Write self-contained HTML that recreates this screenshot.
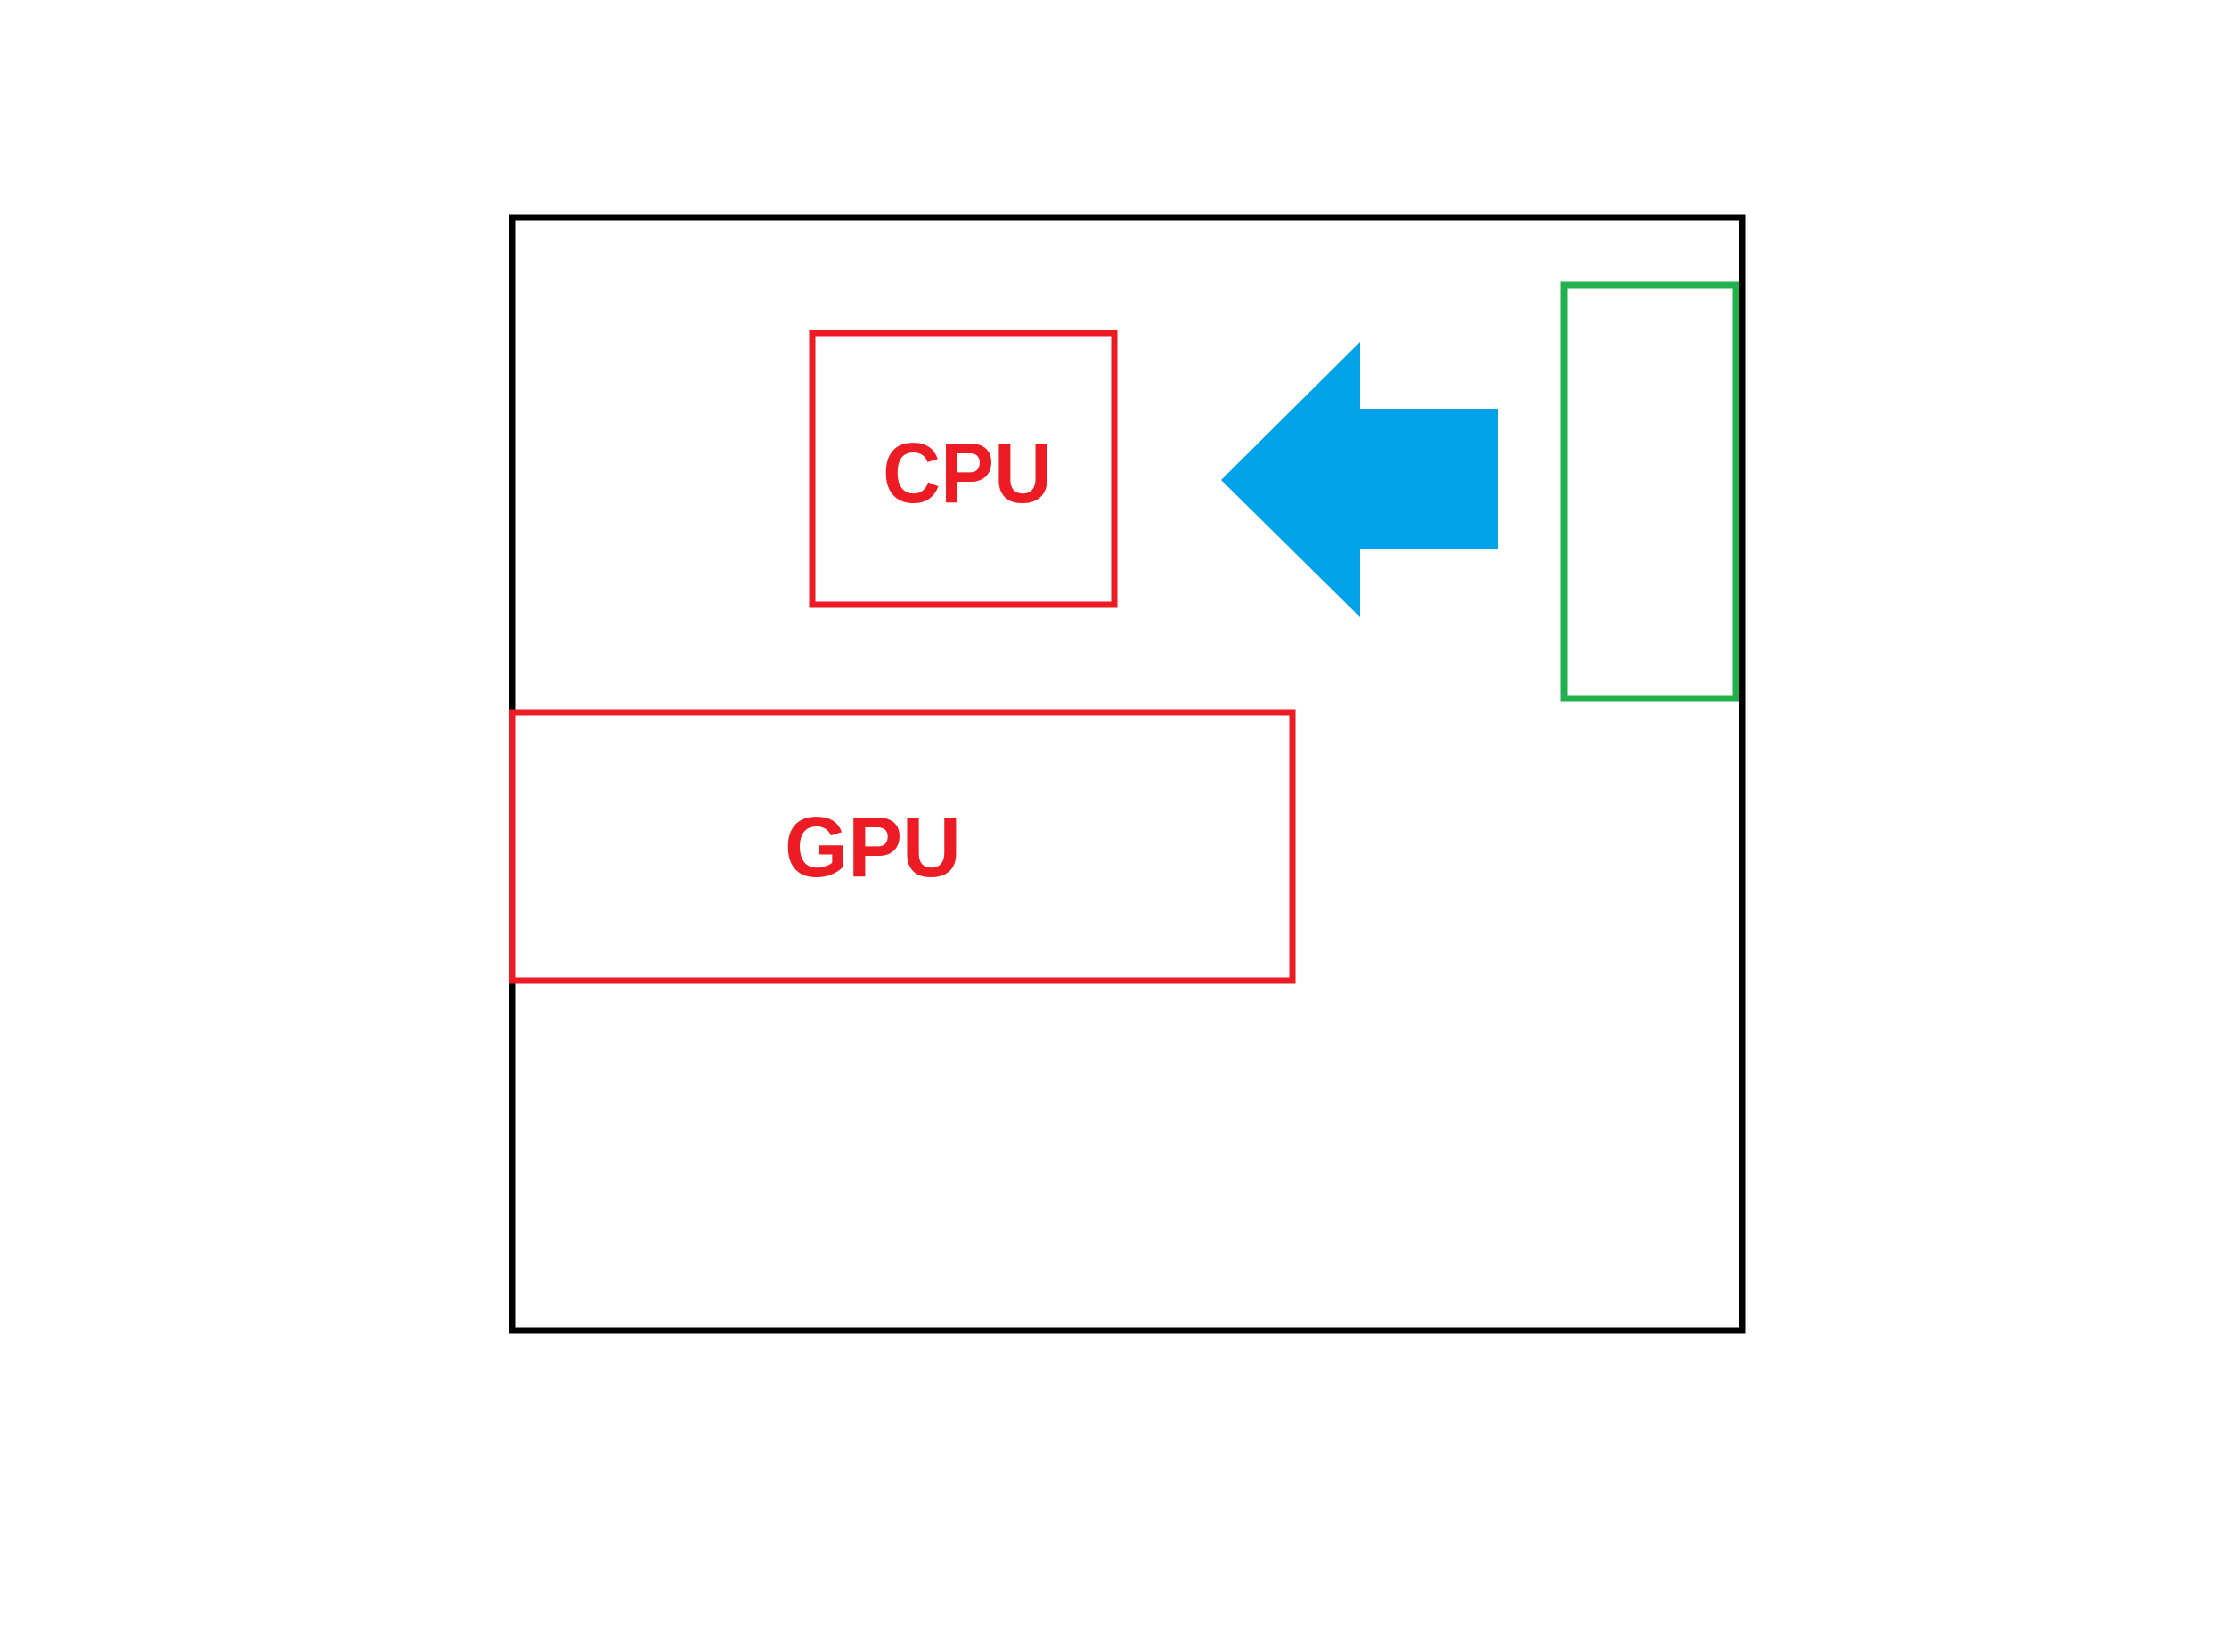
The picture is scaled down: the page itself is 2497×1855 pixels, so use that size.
<!DOCTYPE html>
<html><head><style>body{margin:0;background:#fff}</style></head><body>
<svg width="2497" height="1850" xmlns="http://www.w3.org/2000/svg">
<rect x="0" y="0" width="2497" height="1850" fill="#fff"/>
<rect x="575" y="244" width="1381" height="1250" fill="none" stroke="#000" stroke-width="7"/>
<rect x="912" y="374" width="339" height="305" fill="none" stroke="#ed1c24" stroke-width="7"/>
<rect x="575" y="800" width="876" height="301" fill="none" stroke="#ed1c24" stroke-width="7"/>
<rect x="1756" y="320" width="193" height="464" fill="none" stroke="#22b14c" stroke-width="7"/>
<polygon points="1371,539 1527,384 1527,459 1682,459 1682,617 1527,617 1527,693" fill="#00a2e8"/>
<text x="991" y="564" font-family="Liberation Sans, sans-serif" font-weight="bold" font-size="96" fill="#ed1c24" textLength="190" lengthAdjust="spacingAndGlyphs">CPU</text>
<text x="881" y="984" font-family="Liberation Sans, sans-serif" font-weight="bold" font-size="96" fill="#ed1c24" textLength="198" lengthAdjust="spacingAndGlyphs">GPU</text>
</svg>
</body></html>
